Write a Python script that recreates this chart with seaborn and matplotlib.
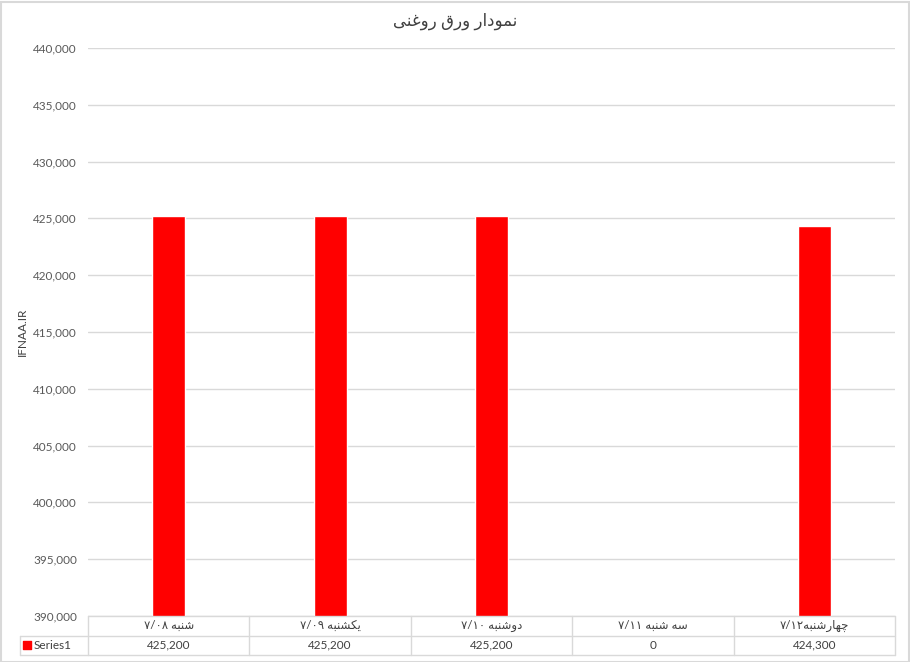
import matplotlib
matplotlib.use("Agg")
import matplotlib.pyplot as plt
import seaborn as sns
import pandas as pd

# data
title = "نمودار ورق روغنی"
days = ["شنبه ۷/۰۸", "یکشنبه ۷/۰۹", "دوشنبه ۷/۱۰", "سه شنبه ۷/۱۱", "چهارشنبه۷/۱۲"]
prices = [425200, 425200, 425200, 0, 424300]
series_name = "Series1"
y_label = "IFNAA.IR"
y_ticks = [390000, 395000, 400000, 405000, 410000, 415000, 420000, 425000, 430000, 435000, 440000]

# matplotlib has no arabic shaping, so do a small one by hand
FORMS = {
    "ا": ("\uFE8D", "\uFE8E", None, None),
    "ب": ("\uFE8F", "\uFE90", "\uFE91", "\uFE92"),
    "ج": ("\uFE9D", "\uFE9E", "\uFE9F", "\uFEA0"),
    "چ": ("\uFB7A", "\uFB7B", "\uFB7C", "\uFB7D"),
    "د": ("\uFEA9", "\uFEAA", None, None),
    "ر": ("\uFEAD", "\uFEAE", None, None),
    "س": ("\uFEB1", "\uFEB2", "\uFEB3", "\uFEB4"),
    "ش": ("\uFEB5", "\uFEB6", "\uFEB7", "\uFEB8"),
    "غ": ("\uFECD", "\uFECE", "\uFECF", "\uFED0"),
    "ق": ("\uFED5", "\uFED6", "\uFED7", "\uFED8"),
    "ک": ("\uFB8E", "\uFB8F", "\uFB90", "\uFB91"),
    "م": ("\uFEE1", "\uFEE2", "\uFEE3", "\uFEE4"),
    "ن": ("\uFEE5", "\uFEE6", "\uFEE7", "\uFEE8"),
    "ه": ("\uFEE9", "\uFEEA", "\uFEEB", "\uFEEC"),
    "و": ("\uFEED", "\uFEEE", None, None),
    "ی": ("\uFBFC", "\uFBFD", "\uFBFE", "\uFBFF"),
}


def dual(c):
    return c in FORMS and FORMS[c][2] is not None


def shape_word(w):
    out = []
    for i, c in enumerate(w):
        if c not in FORMS:
            out.append(c)
            continue
        prev = w[i - 1] if i > 0 else ""
        nxt = w[i + 1] if i < len(w) - 1 else ""
        jp = dual(prev)
        jn = dual(c) and nxt in FORMS
        f = FORMS[c]
        if jp and jn:
            out.append(f[3])
        elif jp:
            out.append(f[1])
        elif jn:
            out.append(f[2])
        else:
            out.append(f[0])
    return "".join(out)


def rtl(text):
    # visual order for a right-to-left line: number runs stay left to right
    shaped = shape_word(text)
    runs, cur, num = [], "", None
    for c in shaped:
        isnum = ("\u06F0" <= c <= "\u06F9") or c == "/"
        if c == " ":
            runs.append((num, cur))
            runs.append((False, " "))
            cur, num = "", None
            continue
        if num is not None and isnum != num:
            runs.append((num, cur))
            cur = ""
        cur += c
        num = isnum
    runs.append((num, cur))
    return "".join(s if n else s[::-1] for n, s in reversed(runs))


sns.set_style("white")
plt.rcParams["font.family"] = ["Lato", "DejaVu Sans"]

W, H = 910, 662
fig = plt.figure(figsize=(W / 100, H / 100), dpi=100)
L, R, T, B = 88, 895, 48, 616
ax = fig.add_axes([L / W, 1 - B / H, (R - L) / W, (B - T) / H])

df = pd.DataFrame({"day": [rtl(d) for d in days], "price": prices})
sns.barplot(data=df, x="day", y="price", color="#FF0000", saturation=1,
            width=0.205, ax=ax)

ax.set_xlim(-0.5, len(days) - 0.5)
ax.set_ylim(y_ticks[0], y_ticks[-1])
ax.set_yticks(y_ticks)
ax.set_yticklabels([f"{v:,}" for v in y_ticks], fontsize=8.5, color="#595959")
ax.tick_params(axis="y", length=0, pad=8)
ax.tick_params(axis="x", length=0, labelbottom=False)
ax.set_xlabel("")
ax.set_ylabel("")
ax.grid(axis="y", color="#D9D9D9", linewidth=1)
ax.set_axisbelow(True)
for s in ax.spines.values():
    s.set_visible(False)

fig.text(22 / W, 1 - 332 / H, y_label, rotation=90, fontsize=8.5, color="#404040",
         ha="center", va="center")
fig.text(455 / W, 1 - 21 / H, rtl(title), fontsize=12, color="#404040",
         ha="center", va="center")

# data table under the plot
TL, TB = 20, 655
tab = fig.add_axes([TL / W, 1 - TB / H, (R - TL) / W, (TB - B) / H])
unit = (R - L) / len(days)
left = -0.5 - (L - TL) / unit
tab.set_xlim(left, len(days) - 0.5)
tab.set_ylim(0, 2)
tab.axis("off")
lc = "#D9D9D9"
tab.plot([-0.5, len(days) - 0.5], [2, 2], color=lc, lw=1, clip_on=False)
tab.plot([left, len(days) - 0.5], [1, 1], color=lc, lw=1, clip_on=False)
tab.plot([left, len(days) - 0.5], [0, 0], color=lc, lw=1, clip_on=False)
tab.plot([left, left], [0, 1], color=lc, lw=1, clip_on=False)
for i in range(len(days) + 1):
    tab.plot([i - 0.5, i - 0.5], [0, 2], color=lc, lw=1, clip_on=False)
for i, (d, p) in enumerate(zip(days, prices)):
    tab.text(i, 1.5, rtl(d), ha="center", va="center", fontsize=8.5, color="#404040")
    tab.text(i, 0.5, f"{p:,}", ha="center", va="center", fontsize=8.5, color="#404040")
tab.scatter([left + 0.045], [0.5], marker="s", s=28, color="#FF0000")
tab.text(left + 0.085, 0.5, series_name, ha="left", va="center", fontsize=8.5,
         color="#404040")

# outer frame
fig.patches.append(plt.Rectangle((0.5 / W, 0.5 / H), 1 - 2 / W, 1 - 2 / H,
                                 transform=fig.transFigure, fill=False,
                                 edgecolor="#D9D9D9", lw=1.5))

fig.savefig("out.png", dpi=100)
